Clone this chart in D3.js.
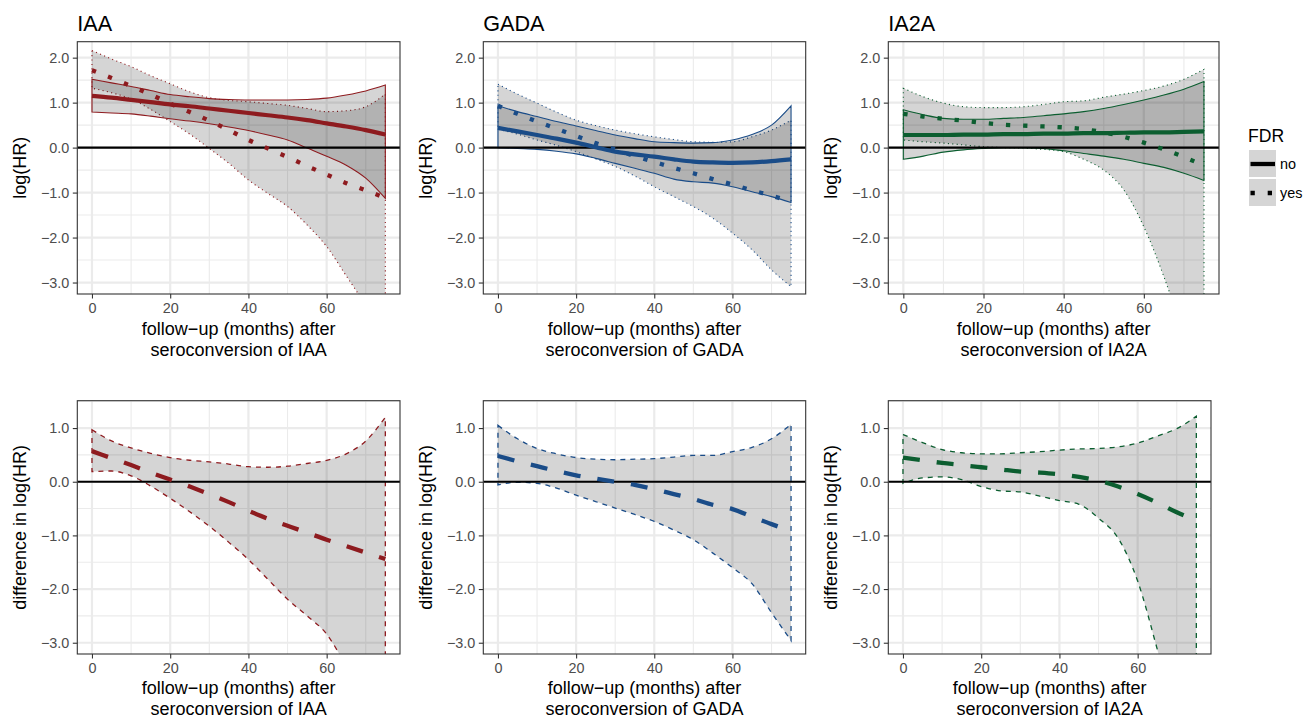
<!DOCTYPE html>
<html>
<head>
<meta charset="utf-8">
<script src="https://cdn.jsdelivr.net/npm/d3@7"></script>
<style>
body { margin: 0; background: #fff; }
text { font-family: "Liberation Sans", Arial, Helvetica, sans-serif; }
</style>
</head>
<body>
<svg id="chart" width="1305" height="716"></svg>
<script>
// data (log hazard ratios, every 5 months)
var months = [0, 5, 10, 15, 20, 25, 30, 35, 40, 45, 50, 55, 60, 65, 70, 75];

var markers = ["IAA", "GADA", "IA2A"];
var marker_cols = ["#8E1B1F", "#1A4C88", "#0C5E30"];
var fdr_labels = ["no", "yes"];

var x_ticks = [0, 20, 40, 60];
var x_minor = [10, 30, 50, 70];
var y_ticks_top = [-3, -2, -1, 0, 1, 2];
var y_minor_top = [-2.5, -1.5, -0.5, 0.5, 1.5];
var y_ticks_bottom = [-3, -2, -1, 0, 1];
var y_minor_bottom = [-2.5, -1.5, -0.5, 0.5, 1.5];

// top row, FDR = no
var iaa_no_est = [1.15, 1.11, 1.06, 1.01, 0.96, 0.92, 0.87, 0.82, 0.77, 0.72, 0.67, 0.61, 0.54, 0.47, 0.39, 0.29];
var iaa_no_lo = [0.79, 0.77, 0.75, 0.70, 0.64, 0.59, 0.53, 0.46, 0.38, 0.28, 0.17, -0.01, -0.19, -0.39, -0.68, -1.13];
var iaa_no_hi = [1.52, 1.44, 1.36, 1.27, 1.18, 1.13, 1.09, 1.07, 1.06, 1.06, 1.06, 1.07, 1.10, 1.17, 1.26, 1.39];
var gada_no_est = [0.44, 0.36, 0.28, 0.20, 0.11, 0.01, -0.09, -0.15, -0.20, -0.26, -0.31, -0.33, -0.34, -0.33, -0.30, -0.26];
var gada_no_lo = [0.0, -0.02, -0.04, -0.08, -0.14, -0.24, -0.35, -0.46, -0.57, -0.70, -0.76, -0.79, -0.87, -0.98, -1.09, -1.22];
var gada_no_hi = [0.93, 0.80, 0.69, 0.58, 0.48, 0.38, 0.28, 0.20, 0.13, 0.11, 0.10, 0.11, 0.17, 0.29, 0.50, 0.93];
var ia2a_no_est = [0.28, 0.28, 0.28, 0.29, 0.29, 0.30, 0.30, 0.31, 0.31, 0.32, 0.32, 0.33, 0.34, 0.34, 0.35, 0.36];
var ia2a_no_lo = [-0.26, -0.19, -0.10, -0.05, -0.02, 0.0, 0.0, -0.02, -0.07, -0.13, -0.19, -0.26, -0.35, -0.44, -0.57, -0.73];
var ia2a_no_hi = [0.84, 0.73, 0.65, 0.63, 0.63, 0.65, 0.67, 0.71, 0.75, 0.80, 0.87, 0.96, 1.06, 1.17, 1.30, 1.47];

// top row, FDR = yes
var iaa_yes_est = [1.72, 1.55, 1.37, 1.18, 0.98, 0.79, 0.60, 0.39, 0.17, -0.02, -0.21, -0.41, -0.60, -0.79, -0.95, -1.12];
var iaa_yes_lo = [1.32, 1.22, 1.08, 0.85, 0.58, 0.30, -0.02, -0.35, -0.72, -1.02, -1.31, -1.72, -2.20, -2.85, -3.50, -4.15];
var iaa_yes_hi = [2.16, 1.97, 1.80, 1.60, 1.42, 1.24, 1.11, 1.05, 1.02, 0.98, 0.94, 0.87, 0.80, 0.82, 0.91, 1.19];
var gada_yes_est = [0.93, 0.75, 0.58, 0.42, 0.26, 0.10, -0.04, -0.19, -0.32, -0.45, -0.57, -0.70, -0.82, -0.95, -1.07, -1.20];
var gada_yes_lo = [0.41, 0.30, 0.17, 0.05, -0.09, -0.25, -0.42, -0.63, -0.87, -1.09, -1.31, -1.57, -1.90, -2.27, -2.72, -3.09];
var gada_yes_hi = [1.41, 1.19, 0.99, 0.79, 0.61, 0.49, 0.39, 0.31, 0.24, 0.18, 0.13, 0.12, 0.13, 0.24, 0.39, 0.61];
var ia2a_yes_est = [0.75, 0.69, 0.64, 0.60, 0.55, 0.51, 0.49, 0.47, 0.45, 0.41, 0.34, 0.24, 0.11, -0.04, -0.21, -0.40];
var ia2a_yes_lo = [0.17, 0.13, 0.10, 0.06, 0.02, 0.0, -0.01, -0.04, -0.09, -0.26, -0.50, -0.94, -1.76, -2.87, -4.20, -5.80];
var ia2a_yes_hi = [1.32, 1.13, 0.99, 0.91, 0.89, 0.89, 0.91, 0.96, 1.02, 1.04, 1.12, 1.19, 1.27, 1.37, 1.52, 1.74];

// bottom row, difference yes - no
var iaa_diff_est = [0.57, 0.44, 0.31, 0.17, 0.04, -0.09, -0.23, -0.38, -0.54, -0.69, -0.82, -0.95, -1.08, -1.20, -1.32, -1.44];
var iaa_diff_lo = [0.19, 0.20, 0.11, -0.08, -0.31, -0.56, -0.83, -1.13, -1.45, -1.82, -2.19, -2.50, -2.84, -3.45, -4.20, -5.00];
var iaa_diff_hi = [0.97, 0.76, 0.63, 0.53, 0.45, 0.40, 0.37, 0.33, 0.28, 0.27, 0.29, 0.34, 0.40, 0.52, 0.76, 1.20];
var gada_diff_est = [0.48, 0.38, 0.29, 0.20, 0.12, 0.06, 0.0, -0.06, -0.14, -0.23, -0.32, -0.43, -0.51, -0.65, -0.79, -0.92];
var gada_diff_lo = [-0.06, -0.01, -0.03, -0.12, -0.25, -0.37, -0.49, -0.61, -0.74, -0.90, -1.08, -1.33, -1.60, -1.90, -2.44, -2.96];
var gada_diff_hi = [1.05, 0.80, 0.62, 0.52, 0.45, 0.42, 0.41, 0.42, 0.43, 0.46, 0.49, 0.49, 0.56, 0.64, 0.80, 1.07];
var ia2a_diff_est = [0.45, 0.40, 0.35, 0.31, 0.27, 0.23, 0.19, 0.17, 0.14, 0.09, 0.02, -0.09, -0.23, -0.39, -0.57, -0.72];
var ia2a_diff_lo = [-0.03, 0.07, 0.09, 0.04, -0.09, -0.17, -0.19, -0.27, -0.35, -0.42, -0.68, -1.05, -1.85, -3.12, -4.50, -6.00];
var ia2a_diff_hi = [0.88, 0.73, 0.60, 0.54, 0.52, 0.52, 0.54, 0.56, 0.59, 0.61, 0.62, 0.65, 0.72, 0.85, 0.99, 1.22];

// layout
var col_left = [77.3, 483.3, 888.3];
var col_right_top = [400, 805.7, 1219];
var col_right_bottom = [400, 805.7, 1211];
var row_y0 = [41.7, 400.7];
var row_y1 = [294, 654];
var x_domain = [-3.75, 78.75];
var y_domain_top = [-3.255, 2.355];
var y_domain_bottom = [-3.21, 1.51];

var fmt = d3.format(".1f");
var svg = d3.select("#chart");
var clip_n = 0;

function zip_series (xs, est, lo, hi) {
  var out = [];
  for (var i = 0; i < xs.length; i++) {
    out.push({ m: xs[i], est: est[i], lo: lo[i], hi: hi[i] });
  }
  return out;
}

// draws one panel frame, grid and axes; returns the scales and a clipped group
function draw_frame (p) {
  var x = d3.scaleLinear().domain(x_domain).range([p.x0, p.x1]);
  var y = d3.scaleLinear().domain(p.ydomain).range([p.y1, p.y0]);
  var g = svg.append("g");

  g.append("rect")
   .attr("x", p.x0).attr("y", p.y0)
   .attr("width", p.x1 - p.x0).attr("height", p.y1 - p.y0)
   .attr("fill", "#fff");

  // minor grid first, then major
  p.yminor.forEach(function (v) {
    g.append("line").attr("x1", p.x0).attr("x2", p.x1)
     .attr("y1", y(v)).attr("y2", y(v))
     .attr("stroke", "#EBEBEB").attr("stroke-width", 1.1);
  });
  x_minor.forEach(function (v) {
    g.append("line").attr("x1", x(v)).attr("x2", x(v))
     .attr("y1", p.y0).attr("y2", p.y1)
     .attr("stroke", "#EBEBEB").attr("stroke-width", 1.1);
  });
  p.yticks.forEach(function (v) {
    g.append("line").attr("x1", p.x0).attr("x2", p.x1)
     .attr("y1", y(v)).attr("y2", y(v))
     .attr("stroke", "#EBEBEB").attr("stroke-width", 2.2);
  });
  x_ticks.forEach(function (v) {
    g.append("line").attr("x1", x(v)).attr("x2", x(v))
     .attr("y1", p.y0).attr("y2", p.y1)
     .attr("stroke", "#EBEBEB").attr("stroke-width", 2.2);
  });

  clip_n = clip_n + 1;
  var clip_id = "clip" + clip_n;
  svg.append("clipPath").attr("id", clip_id)
     .append("rect")
     .attr("x", p.x0).attr("y", p.y0)
     .attr("width", p.x1 - p.x0).attr("height", p.y1 - p.y0);
  var inner = svg.append("g").attr("clip-path", "url(#" + clip_id + ")");

  return { x: x, y: y, inner: inner };
}

function draw_axes (p, sc) {
  var ya = svg.append("g")
    .attr("transform", "translate(" + p.x0 + ",0)")
    .call(d3.axisLeft(sc.y).tickValues(p.yticks).tickFormat(fmt).tickSize(4.5).tickPadding(3.5));
  var xa = svg.append("g")
    .attr("transform", "translate(0," + p.y1 + ")")
    .call(d3.axisBottom(sc.x).tickValues(x_ticks).tickFormat(d3.format("d")).tickSize(4.5).tickPadding(4));
  [ya, xa].forEach(function (a) {
    a.select(".domain").remove();
    a.selectAll(".tick line").attr("stroke", "#333333").attr("stroke-width", 1.1);
    a.selectAll(".tick text").attr("fill", "#4D4D4D")
     .style("font-size", "14.4px")
     .style("font-family", "'Liberation Sans', Arial, sans-serif");
  });

  // panel border
  svg.append("rect")
     .attr("x", p.x0).attr("y", p.y0)
     .attr("width", p.x1 - p.x0).attr("height", p.y1 - p.y0)
     .attr("fill", "none").attr("stroke", "#333333").attr("stroke-width", 1.1);

  // titles
  if (p.title) {
    svg.append("text").attr("x", p.x0).attr("y", 31)
       .style("font-size", "21.6px").attr("fill", "#000").text(p.title);
  }
  var cy = (p.y0 + p.y1) / 2;
  svg.append("text")
     .attr("transform", "translate(" + (p.x0 - 51.5) + "," + cy + ") rotate(-90)")
     .attr("text-anchor", "middle")
     .style("font-size", "18px").attr("fill", "#000")
     .text(p.ytitle);
  var cx = (p.x0 + p.x1) / 2;
  svg.append("text").attr("x", cx).attr("y", p.y1 + p.xt1)
     .attr("text-anchor", "middle").style("font-size", "18px")
     .text("follow\u2212up (months) after");
  svg.append("text").attr("x", cx).attr("y", p.y1 + p.xt2)
     .attr("text-anchor", "middle").style("font-size", "18px")
     .text("seroconversion of " + p.marker);
}

function draw_ribbon (ctx, sc, data, col, width, dash) {
  var area = d3.area()
    .x(function (d) { return sc.x(d.m); })
    .y0(function (d) { return sc.y(d.lo); })
    .y1(function (d) { return sc.y(d.hi); })
    .curve(d3.curveMonotoneX);
  var path = ctx.append("path")
    .datum(data)
    .attr("d", area)
    .attr("fill", "#000")
    .attr("fill-opacity", 0.165)
    .attr("stroke", col)
    .attr("stroke-width", width);
  if (dash) {
    path.attr("stroke-dasharray", dash);
  }
  return path;
}

function draw_est (ctx, sc, data, col, width, dash) {
  var line = d3.line()
    .x(function (d) { return sc.x(d.m); })
    .y(function (d) { return sc.y(d.est); })
    .curve(d3.curveMonotoneX);
  var path = ctx.append("path")
    .datum(data)
    .attr("d", line)
    .attr("fill", "none")
    .attr("stroke", col)
    .attr("stroke-width", width)
    .attr("stroke-linecap", "butt");
  if (dash) {
    path.attr("stroke-dasharray", dash);
  }
  return path;
}

function draw_zero (ctx, sc, p) {
  ctx.append("line")
     .attr("x1", p.x0).attr("x2", p.x1)
     .attr("y1", sc.y(0)).attr("y2", sc.y(0))
     .attr("stroke", "#000").attr("stroke-width", 2.1);
}

var top_series = [
  { no: zip_series(months, iaa_no_est, iaa_no_lo, iaa_no_hi),
    yes: zip_series(months, iaa_yes_est, iaa_yes_lo, iaa_yes_hi) },
  { no: zip_series(months, gada_no_est, gada_no_lo, gada_no_hi),
    yes: zip_series(months, gada_yes_est, gada_yes_lo, gada_yes_hi) },
  { no: zip_series(months, ia2a_no_est, ia2a_no_lo, ia2a_no_hi),
    yes: zip_series(months, ia2a_yes_est, ia2a_yes_lo, ia2a_yes_hi) }
];
var diff_series = [
  zip_series(months, iaa_diff_est, iaa_diff_lo, iaa_diff_hi),
  zip_series(months, gada_diff_est, gada_diff_lo, gada_diff_hi),
  zip_series(months, ia2a_diff_est, ia2a_diff_lo, ia2a_diff_hi)
];

// top row: log(HR) by FDR
for (var i = 0; i < 3; i++) {
  var p = { x0: col_left[i], x1: col_right_top[i], y0: row_y0[0], y1: row_y1[0],
            ydomain: y_domain_top, yticks: y_ticks_top, yminor: y_minor_top,
            title: markers[i], marker: markers[i], ytitle: "log(HR)",
            xt1: 40.5, xt2: 62 };
  var sc = draw_frame(p);
  var col = marker_cols[i];
  draw_ribbon(sc.inner, sc, top_series[i].yes, col, 1.1, "1.1,3.3");
  draw_ribbon(sc.inner, sc, top_series[i].no, col, 1.1, null);
  draw_zero(sc.inner, sc, p);
  draw_est(sc.inner, sc, top_series[i].no, col, 4.2, null);
  draw_est(sc.inner, sc, top_series[i].yes, col, 4.3, "4.3,12.9");
  draw_axes(p, sc);
}

// bottom row: difference in log(HR); second title line sits at the page edge as in the original
for (var j = 0; j < 3; j++) {
  var q = { x0: col_left[j], x1: col_right_bottom[j], y0: row_y0[1], y1: row_y1[1],
            ydomain: y_domain_bottom, yticks: y_ticks_bottom, yminor: y_minor_bottom,
            title: null, marker: markers[j], ytitle: "difference in log(HR)",
            xt1: 40, xt2: 60.5 };
  var sc2 = draw_frame(q);
  draw_ribbon(sc2.inner, sc2, diff_series[j], marker_cols[j], 1.3, "5,5");
  draw_zero(sc2.inner, sc2, q);
  draw_est(sc2.inner, sc2, diff_series[j], marker_cols[j], 4.3, "17,17");
  draw_axes(q, sc2);
}

// legend
function draw_legend (ctx) {
  ctx.append("text").attr("x", 1248).attr("y", 141.5)
     .style("font-size", "17.6px").text("FDR");
  var dashes = [null, "4.3,12.9"];
  fdr_labels.forEach(function (lab, k) {
    var ky = 150 + k * 29;
    ctx.append("rect").attr("x", 1249).attr("y", ky)
       .attr("width", 27).attr("height", 27)
       .attr("fill", "#000").attr("fill-opacity", 0.165);
    var ln = ctx.append("line")
       .attr("x1", 1250.5).attr("x2", 1275)
       .attr("y1", ky + 14).attr("y2", ky + 14)
       .attr("stroke", "#000").attr("stroke-width", 4.3);
    if (dashes[k]) {
      ln.attr("stroke-dasharray", dashes[k]);
    }
    ctx.append("text").attr("x", 1280).attr("y", ky + 18.5)
       .style("font-size", "14.4px").text(lab);
  });
}
draw_legend(svg);
</script>
</body>
</html>
